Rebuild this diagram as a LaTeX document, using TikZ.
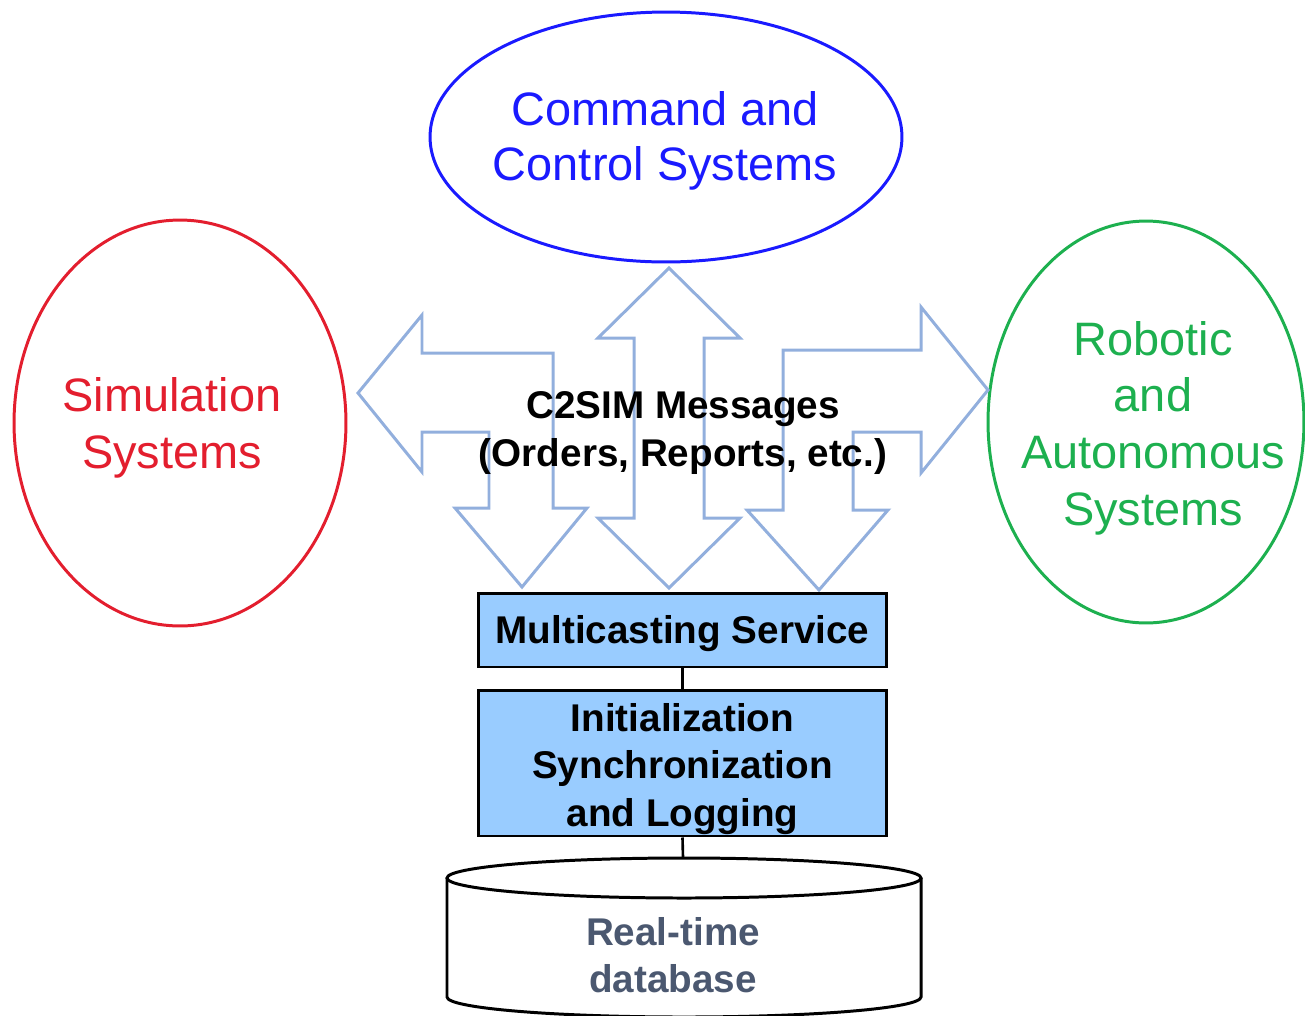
\documentclass[tikz,border=0pt]{standalone}
\usepackage{fontspec}
\setmainfont{Liberation Sans}
\usetikzlibrary{shapes.geometric}
\definecolor{cblue}{HTML}{1A1AFF}
\definecolor{cred}{HTML}{E31E2E}
\definecolor{cgreen}{HTML}{1DB04F}
\definecolor{boxfill}{HTML}{99CCFF}
\definecolor{arrowblue}{HTML}{92AFDD}
\definecolor{dbtext}{HTML}{4B5870}
\tikzset{
  sysell/.style={ellipse, line width=1.7pt, inner sep=0pt},
  systext/.style={align=center, inner sep=0pt, font=\fontsize{26.7}{32.2}\selectfont},
  bigarrow/.style={draw=arrowblue, line width=1.7pt, line join=miter},
  svcbox/.style={draw=black, line width=1.7pt, fill=boxfill, inner sep=0pt,
     minimum width=8.18cm},
  link/.style={draw=black, line width=1.5pt},
  msgtext/.style={align=center, inner sep=0pt, font=\bfseries\fontsize{22}{26.8}\selectfont}
}
\begin{document}
\begin{tikzpicture}[x=0.02cm, y=-0.02cm]
\useasboundingbox (0,0) rectangle (1305,1015);
% ellipses
\node[sysell, draw=cblue, minimum width=9.44cm, minimum height=5cm] (c2) at (666,137) {};
\node[systext, text=cblue, font=\fontsize{26.7}{31.4}\selectfont] (c2text) at (665,141) {Command and\\Control Systems};
\node[sysell, draw=cred, minimum width=6.64cm, minimum height=8.12cm] (sim) at (180,423) {};
\node[systext, text=cred] (simtext) at (172,428) {Simulation\\Systems};
\node[sysell, draw=cgreen, minimum width=6.32cm, minimum height=8.04cm] (ras) at (1146,422) {};
\node[systext, text=cgreen] (rastext) at (1153,428) {Robotic\\and\\Autonomous\\Systems};
% big arrows
\draw[bigarrow] (358,393) -- (422,315) -- (422,353) -- (553,353) -- (553,508) -- (587,508)
  -- (522,587) -- (455,508) -- (489,508) -- (489,432) -- (422,432) -- (422,472) -- cycle;
\draw[bigarrow] (669,268) -- (740,338) -- (704,338) -- (704,518) -- (740,518) -- (669,588)
  -- (598,518) -- (634,518) -- (634,338) -- (598,338) -- cycle;
\draw[bigarrow] (988,390) -- (921,307) -- (921,350) -- (783,350) -- (783,510) -- (747,510)
  -- (819,590) -- (888,510) -- (853,510) -- (853,432) -- (921,432) -- (921,473) -- cycle;
\node[msgtext] (msg) at (683,433) {C2SIM Messages\\(Orders, Reports, etc.)};
% boxes
\node[svcbox, minimum height=1.48cm] (mcast) at (682.5,630) {};
\node[msgtext] (mcasttext) at (682.5,634) {Multicasting Service};
\node[svcbox, minimum height=2.92cm] (init) at (682.5,763) {};
\node[msgtext] (inittext) at (682.5,769) {Initialization\\Synchronization\\and Logging};
% database cylinder
\draw[line width=1.7pt, fill=white] (447,878) -- (447,997) arc[start angle=180, end angle=0, x radius=237, y radius=20]
  -- (921,878);
\draw[line width=1.7pt, fill=white] (684,878) ellipse[x radius=237, y radius=20];
\coordinate (dbtop) at (683,858);
\node[msgtext, text=dbtext] (db) at (673,955) {Real-time\\database};
% connectors
\draw[link] (mcast.south) -- (init.north);
\draw[link] (init.south) -- (dbtop);
\end{tikzpicture}
\end{document}
